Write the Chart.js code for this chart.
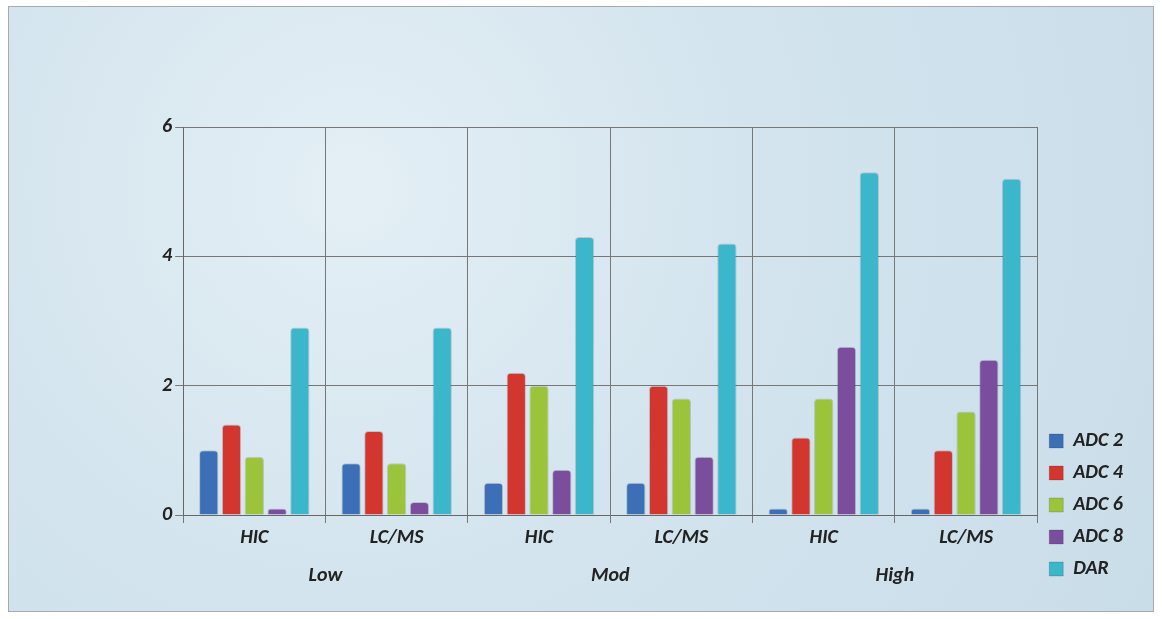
<!DOCTYPE html>
<html>
<head>
<meta charset="utf-8">
<script src="https://cdn.jsdelivr.net/npm/chart.js@4"></script>
<style>
  html, body { margin: 0; padding: 0; background: #fff; }
  .frame {
    position: absolute; left: 8px; top: 6px; width: 1144px; height: 604px;
    border: 1px solid #a9a9a9;
    background: radial-gradient(circle at 30% 30%, #e4eff5 0%, #d3e4ee 45%, #c9dde9 100%);
  }
  canvas { display: block; }
</style>
</head>
<body>
<div class="frame"><canvas id="chart" width="1144" height="604"></canvas></div>
<script>
const methods = ['HIC', 'LC/MS', 'HIC', 'LC/MS', 'HIC', 'LC/MS'];
const levels = ['Low', 'Mod', 'High'];
const seriesNames = ['ADC 2', 'ADC 4', 'ADC 6', 'ADC 8', 'DAR'];
const seriesColors = ['#3d6fb6', '#d3352f', '#9cc43b', '#7b4e9d', '#3cb6cb'];
const adc2 = [1.0, 0.8, 0.5, 0.5, 0.1, 0.1];
const adc4 = [1.4, 1.3, 2.2, 2.0, 1.2, 1.0];
const adc6 = [0.9, 0.8, 2.0, 1.8, 1.8, 1.6];
const adc8 = [0.1, 0.2, 0.7, 0.9, 2.6, 2.4];
const dar  = [2.9, 2.9, 4.3, 4.2, 5.3, 5.2];
const yTicks = [0, 2, 4, 6];

const values = [adc2, adc4, adc6, adc8, dar];
const font = { family: 'Calibri, Carlito, "Liberation Sans", sans-serif', size: 20, weight: 'bold', style: 'italic' };

new Chart(document.getElementById('chart'), {
  type: 'bar',
  data: {
    labels: methods,
    datasets: seriesNames.map((name, i) => ({
      label: name,
      data: values[i],
      backgroundColor: seriesColors[i],
      borderColor: 'rgba(0,0,0,0.15)',
      borderWidth: 1,
      borderRadius: 4,
      categoryPercentage: 0.8,
      barPercentage: 0.85
    }))
  },
  options: {
    responsive: false,
    animation: false,
    layout: { padding: { left: 150, right: 20, top: 120, bottom: 20 } },
    plugins: {
      legend: {
        position: 'right',
        align: 'end',
        labels: { color: '#222', font: font, boxWidth: 14, boxHeight: 14, padding: 12 }
      },
      tooltip: { enabled: false }
    },
    scales: {
      x: {
        grid: { color: '#777', drawTicks: true },
        border: { color: '#666' },
        ticks: { color: '#222', font: font }
      },
      x2: {
        type: 'category',
        labels: levels,
        position: 'bottom',
        grid: { display: false },
        border: { display: false },
        ticks: { color: '#222', font: font }
      },
      y: {
        min: 0,
        max: 6,
        afterBuildTicks: axis => { axis.ticks = yTicks.map(v => ({ value: v })); },
        grid: { color: '#777' },
        border: { color: '#666' },
        ticks: { color: '#222', font: font }
      }
    }
  }
});
</script>
</body>
</html>
